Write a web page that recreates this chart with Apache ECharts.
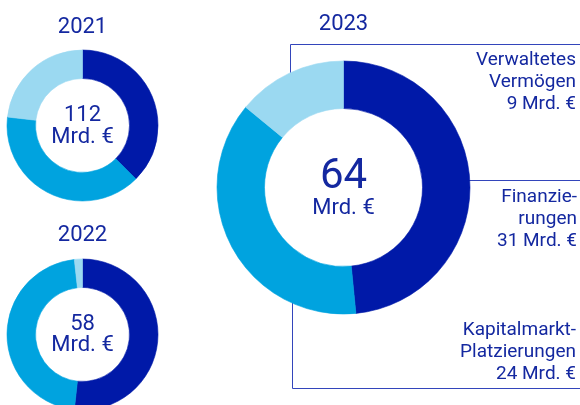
<!DOCTYPE html>
<html>
<head>
<meta charset="utf-8">
<script src="https://cdn.jsdelivr.net/npm/echarts@6/dist/echarts.min.js"></script>
<style>
  html, body { margin: 0; padding: 0; background: #fff; }
  #main { width: 580px; height: 405px; }
</style>
</head>
<body>
<div id="main"></div>
<script>
const years = ['2021', '2022', '2023'];
const totals = [112, 58, 64];
const categories = ['Finanzierungen', 'Kapitalmarkt-Platzierungen', 'Verwaltetes Vermögen'];
const finanzierungen = [42, 30, 31];
const kapitalmarkt = [44, 27, 24];
const verwaltet = [26, 1, 9];

const colors = ['#0019a8', '#00a3df', '#9bd9f1'];
const textColor = '#1428a0';
const lineColor = '#3345bb';
const font = 'Roboto, "Liberation Sans", sans-serif';

// pie placement: [cx, cy, inner, outer]
const place = [
    [82.5, 125.5, 47, 75.5],
    [82.5, 334.5, 47, 75.5],
    [343.5, 187.5, 79, 126.5]
];
// title y and center text y's (middle)
const titleY = [27, 235, 24];
const numY = [115, 324, 177];
const unitY = [137, 345, 208];
const numSize = [22, 22, 42];

const chart = echarts.init(document.getElementById('main'), null, { renderer: 'canvas' });

function slice(name, value, c) {
    // border in the same colour hides the anti-aliasing seams
    return { name: name, value: value, itemStyle: { color: c, borderColor: c, borderWidth: 0.6 } };
}

const series = years.map(function (y, i) {
    return {
        name: y,
        type: 'pie',
        center: [place[i][0], place[i][1]],
        radius: [place[i][2], place[i][3]],
        startAngle: 90,
        clockwise: true,
        silent: true,
        z: 5,
        label: { show: false },
        labelLine: { show: false },
        data: [
            slice(categories[0], finanzierungen[i], colors[0]),
            slice(categories[1], kapitalmarkt[i], colors[1]),
            slice(categories[2], verwaltet[i], colors[2])
        ]
    };
});

function txt(x, y, s, size, align, va, lh) {
    return {
        type: 'text', z: 10, silent: true,
        style: {
            x: x, y: y, text: s, fill: textColor,
            font: size + 'px ' + font,
            textAlign: align || 'center',
            textVerticalAlign: va || 'middle',
            lineHeight: lh || size
        }
    };
}

const graphics = [];
years.forEach(function (y, i) {
    graphics.push(txt(place[i][0], titleY[i], y, 22));
    graphics.push(txt(place[i][0], numY[i], String(totals[i]), numSize[i]));
    graphics.push(txt(place[i][0], unitY[i], 'Mrd. €', 22));
});

// right-hand labels for 2023
graphics.push(txt(576, 49, 'Verwaltetes\nVermögen\n' + verwaltet[2] + ' Mrd. €', 19, 'right', 'top', 22));
graphics.push(txt(577, 186, 'Finanzie-\nrungen\n' + finanzierungen[2] + ' Mrd. €', 19, 'right', 'top', 22));
graphics.push(txt(576, 319, 'Kapitalmarkt-\nPlatzierungen\n' + kapitalmarkt[2] + ' Mrd. €', 19, 'right', 'top', 22));

// bracket lines
const ls = { stroke: lineColor, lineWidth: 1, fill: null };
graphics.push({ type: 'polyline', z: 1, silent: true, shape: { points: [[290.5, 90], [290.5, 44.5], [580, 44.5]] }, style: ls });
graphics.push({ type: 'line', z: 1, silent: true, shape: { x1: 460, y1: 180.5, x2: 580, y2: 180.5 }, style: ls });
graphics.push({ type: 'polyline', z: 1, silent: true, shape: { points: [[292.5, 290], [292.5, 388.5], [580, 388.5]] }, style: ls });

chart.setOption({
    animation: false,
    backgroundColor: '#fff',
    series: series,
    graphic: graphics
});
</script>
</body>
</html>
